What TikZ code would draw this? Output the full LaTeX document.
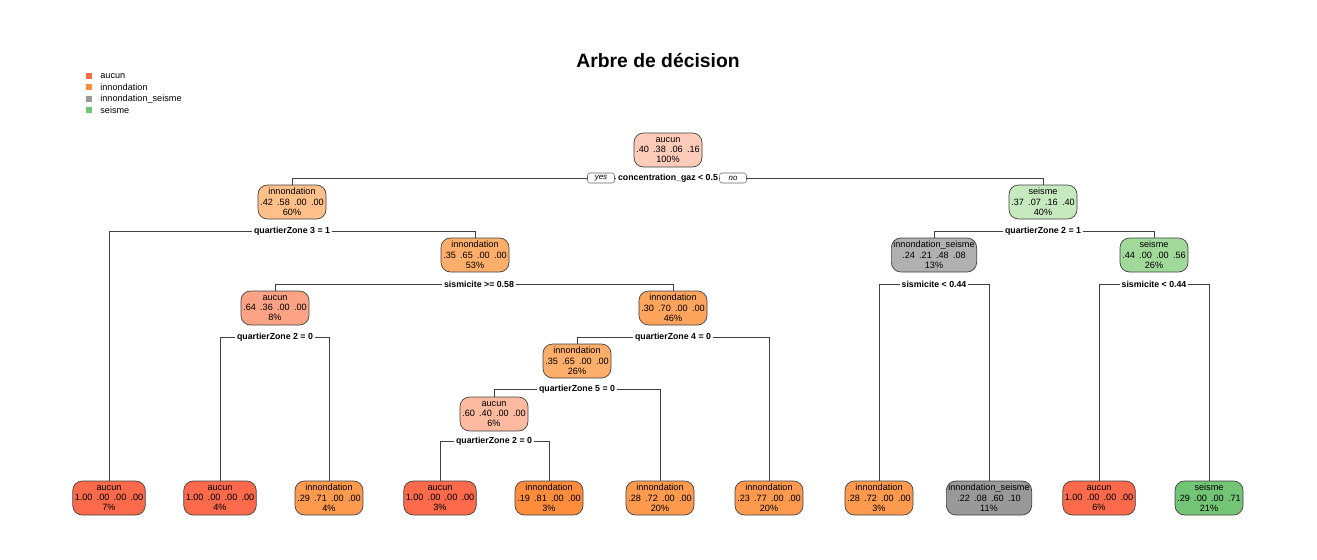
\documentclass[tikz,border=0pt]{standalone}
\usepackage{fontspec}
\setmainfont{Liberation Sans}
% palettes
\definecolor{redA}{HTML}{FCCBB9}
\definecolor{redB}{HTML}{FCBBA1}
\definecolor{redC}{HTML}{FCA385}
\definecolor{redD}{HTML}{FB6A4A}
\definecolor{orA}{HTML}{FDC08A}
\definecolor{orB}{HTML}{FDAE6B}
\definecolor{orC}{HTML}{FDA45D}
\definecolor{orD}{HTML}{FD9A4E}
\definecolor{orE}{HTML}{FD8D3C}
\definecolor{grA}{HTML}{B0B0B0}
\definecolor{grB}{HTML}{999999}
\definecolor{gnA}{HTML}{C7E9C0}
\definecolor{gnB}{HTML}{A1D99B}
\definecolor{gnC}{HTML}{74C476}
% box text: wider gaps between the numbers
\newcommand\ndfont{\fontsize{5.2}{5.9}\selectfont\spaceskip 0.46em\relax}
\begin{document}
\begin{tikzpicture}[x=0.02cm, y=-0.02cm,
  nd/.style={draw=black!75, line width=0.4pt, rectangle,
             rounded corners=0.19cm, minimum width=1.36cm,
             minimum height=0.68cm, inner xsep=0.04cm, inner ysep=0pt,
             align=center, font=\ndfont, anchor=center},
  splitlbl/.style={font=\fontsize{5}{6}\selectfont\bfseries,
                   inner xsep=0.8pt, inner ysep=0.5pt},
  yn/.style={draw=black!60, line width=0.3pt, rounded corners=1.5pt,
             font=\fontsize{4.5}{5}\selectfont\itshape,
             minimum width=0.54cm, minimum height=0.2cm, inner sep=0pt},
  edge/.style={draw=black!75, line width=0.4pt},
  key/.style={minimum size=0.12cm, inner sep=0pt},
  keytxt/.style={anchor=west, font=\fontsize{5.2}{6}\selectfont, inner sep=0pt},
]
\useasboundingbox (0,0) rectangle (1317,559);
% Title
\node[font=\fontsize{11}{13}\selectfont\bfseries] (title) at (658,60) {Arbre de décision};
% Legend
\foreach \i/\c/\lab in {0/redD/aucun, 1/orE/innondation,
                        2/grB/innondation\_seisme, 3/gnC/seisme} {
  \node[key, fill=\c] (k\i) at (89, 76+\i*11.3) {};
  \node[keytxt] (kt\i) at (100, 76+\i*11.3) {\lab};
}
% Inner nodes
\node[nd, fill=redA] (n1) at (668,150) {aucun\\.40 .38 .06 .16\\100\%};
\node[nd, fill=orA] (n2) at (292,202) {innondation\\.42 .58 .00 .00\\60\%};
\node[nd, fill=gnA] (n3) at (1043,202) {seisme\\.37 .07 .16 .40\\40\%};
\node[nd, fill=orB] (n5) at (475,255) {innondation\\.35 .65 .00 .00\\53\%};
\node[nd, fill=redC] (n6) at (275,308) {aucun\\.64 .36 .00 .00\\8\%};
\node[nd, fill=orC] (n7) at (673,308) {innondation\\.30 .70 .00 .00\\46\%};
\node[nd, fill=orB] (n10) at (577,361) {innondation\\.35 .65 .00 .00\\26\%};
\node[nd, fill=redB] (n12) at (494,414) {aucun\\.60 .40 .00 .00\\6\%};
\node[nd, fill=grA] (n16) at (934,255) {innondation\_seisme\\.24 .21 .48 .08\\13\%};
\node[nd, fill=gnB] (n17) at (1154,255) {seisme\\.44 .00 .00 .56\\26\%};
% Leaves
\def\ly{498}
\node[nd, fill=redD] (n4) at (109,\ly) {aucun\\1.00 .00 .00 .00\\7\%};
\node[nd, fill=redD] (n8) at (220,\ly) {aucun\\1.00 .00 .00 .00\\4\%};
\node[nd, fill=orD] (n9) at (329,\ly) {innondation\\.29 .71 .00 .00\\4\%};
\node[nd, fill=redD] (n14) at (440,\ly) {aucun\\1.00 .00 .00 .00\\3\%};
\node[nd, fill=orE] (n15) at (549,\ly) {innondation\\.19 .81 .00 .00\\3\%};
\node[nd, fill=orD] (n13) at (660,\ly) {innondation\\.28 .72 .00 .00\\20\%};
\node[nd, fill=orD] (n11) at (769,\ly) {innondation\\.23 .77 .00 .00\\20\%};
\node[nd, fill=orD] (n18) at (879,\ly) {innondation\\.28 .72 .00 .00\\3\%};
\node[nd, fill=grB] (n19) at (989,\ly) {innondation\_seisme\\.22 .08 .60 .10\\11\%};
\node[nd, fill=redD] (n20) at (1099,\ly) {aucun\\1.00 .00 .00 .00\\6\%};
\node[nd, fill=gnC] (n21) at (1209,\ly) {seisme\\.29 .00 .00 .71\\21\%};
% Split labels
\node[splitlbl] (s1) at (668,178) {concentration\_gaz < 0.5};
\node[yn] (yes) at (601,178) {yes};
\node[yn] (no) at (733,178) {no};
\node[splitlbl] (s2) at (292,231) {quartierZone 3 = 1};
\node[splitlbl] (s3) at (1043,231) {quartierZone 2 = 1};
\node[splitlbl] (s5) at (479,284) {sismicite >= 0.58};
\node[splitlbl] (s6) at (275,337) {quartierZone 2 = 0};
\node[splitlbl] (s7) at (673,337) {quartierZone 4 = 0};
\node[splitlbl] (s10) at (577,389) {quartierZone 5 = 0};
\node[splitlbl] (s12) at (494,441) {quartierZone 2 = 0};
\node[splitlbl] (s16) at (934,284) {sismicite < 0.44};
\node[splitlbl] (s17) at (1154,284) {sismicite < 0.44};
% Edges
\draw[edge] (yes.west) -| (n2.north);
\draw[edge] (yes) -- (s1);
\draw[edge] (s1) -- (no);
\draw[edge] (no.east) -| (n3.north);
\foreach \s/\a/\b in {s2/n4/n5, s3/n16/n17, s5/n6/n7, s6/n8/n9,
                      s7/n10/n11, s10/n12/n13, s12/n14/n15,
                      s16/n18/n19, s17/n20/n21} {
  \draw[edge] (\s.west) -| (\a.north);
  \draw[edge] (\s.east) -| (\b.north);
}
\end{tikzpicture}
\end{document}
